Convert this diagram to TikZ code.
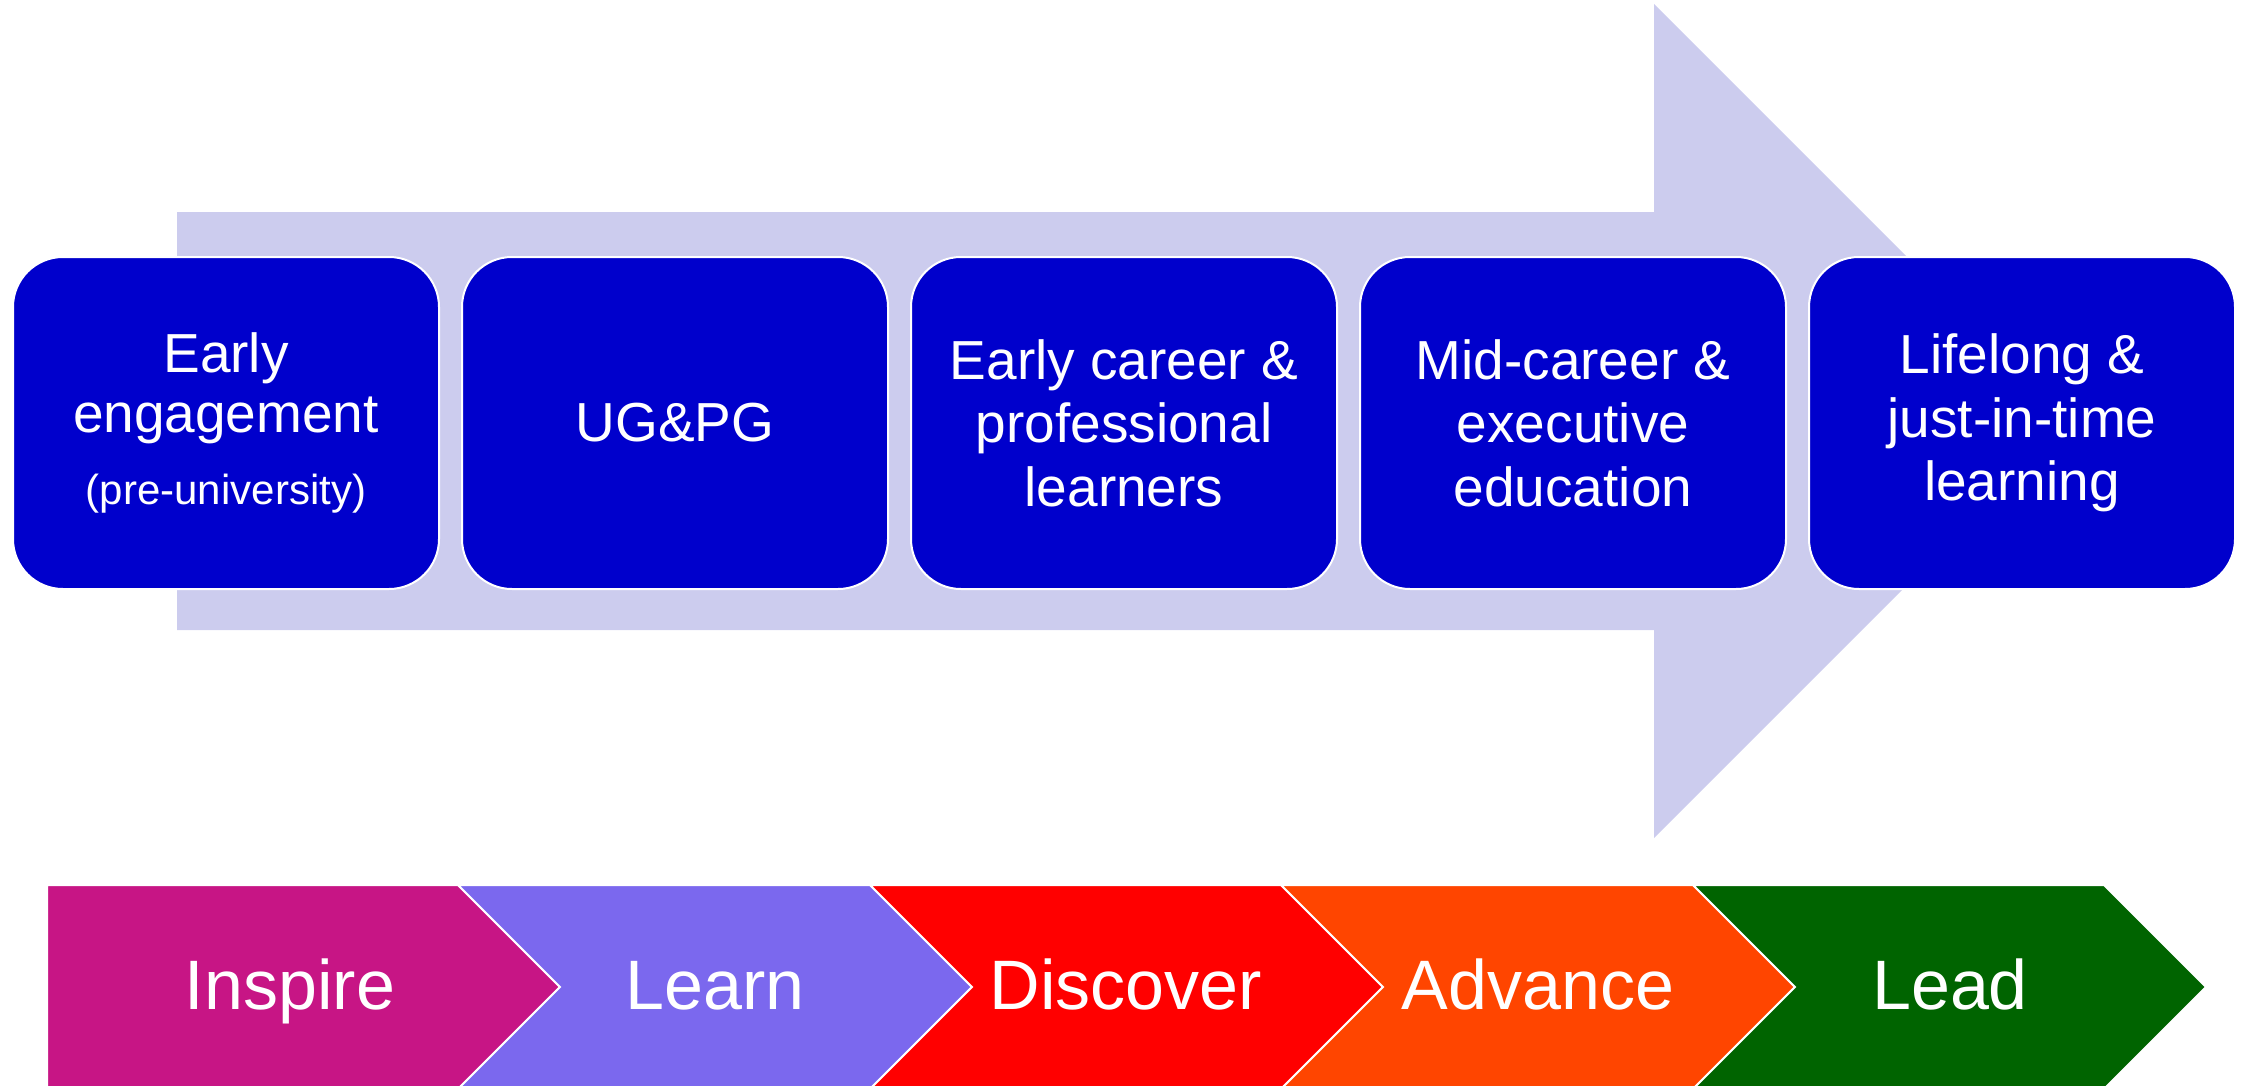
\documentclass[tikz,border=0pt]{standalone}
\usepackage{fontspec}
\setmainfont{Liberation Sans}
\usepackage{tikz}
\usetikzlibrary{positioning}

\definecolor{stageblue}{RGB}{0,0,204}
\definecolor{flowfill}{RGB}{204,204,238}
\definecolor{inspirecol}{RGB}{199,21,133}
\definecolor{learncol}{RGB}{123,104,238}
\definecolor{discovercol}{RGB}{255,0,0}
\definecolor{advancecol}{RGB}{255,69,0}
\definecolor{leadcol}{RGB}{0,100,0}

\begin{document}
\begin{tikzpicture}[x=0.5pt, y=-0.5pt,
		stagebox/.style={rectangle, rounded corners=25pt, draw=white, line width=1pt,
			fill=stageblue, text=white, minimum width=213pt, minimum height=166pt,
			align=center, inner sep=0pt, font=\fontsize{27.5}{31.75}\selectfont},
		chev/.style={draw=white, line width=1pt},
		phase/.style={anchor=base, text=white, inner sep=0pt, font=\fontsize{35}{42}\selectfont}]
			\useasboundingbox (0,0) rectangle (2249,1086);
			% big arrow behind the stages
			\fill [flowfill] (177,212) -- (1654,212) -- (1654,4) -- (2071,421)
				-- (1654,838) -- (1654,630) -- (177,630) -- cycle;
			\node (early) [stagebox, font=\fontsize{27.5}{30}\selectfont] at (226,423)
				{Early\\engagement\\[6pt]{\fontsize{21}{25}\selectfont (pre-university)}};
			\node (ugpg) [stagebox, right=10.5pt of early] {UG\&PG};
			\node (career) [stagebox, right=10.5pt of ugpg] {Early career \&\\professional\\learners};
			\node (midcareer) [stagebox, right=10.5pt of career] {Mid-career \&\\executive\\education};
			\node (lifelong) [stagebox, right=10.5pt of midcareer] {Lifelong \&\\just-in-time\\learning};
			% chevrons along the bottom
			\filldraw [chev, fill=inspirecol] (47,885) -- (458,885) -- (560,987) -- (458,1089) -- (47,1089) -- cycle;
			\filldraw [chev, fill=learncol] (458,885) -- (870,885) -- (972,987) -- (870,1089) -- (458,1089) -- (560,987) -- cycle;
			\filldraw [chev, fill=discovercol] (870,885) -- (1281,885) -- (1383,987) -- (1281,1089) -- (870,1089) -- (972,987) -- cycle;
			\filldraw [chev, fill=advancecol] (1281,885) -- (1693,885) -- (1795,987) -- (1693,1089) -- (1281,1089) -- (1383,987) -- cycle;
			\filldraw [chev, fill=leadcol] (1693,885) -- (2104,885) -- (2206,987) -- (2104,1089) -- (1693,1089) -- (1795,987) -- cycle;
			\node (inspire) [phase] at (290,1009) {Inspire};
			\node (learn) [phase] at (715,1009) {Learn};
			\node (discover) [phase] at (1126,1009) {Discover};
			\node (advance) [phase] at (1538,1009) {Advance};
			\node (lead) [phase] at (1950,1009) {Lead};
\end{tikzpicture}
\end{document}
